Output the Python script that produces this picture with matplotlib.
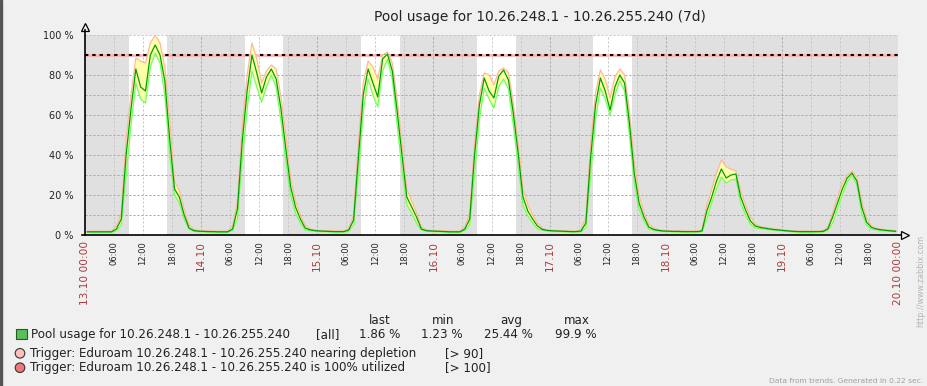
import numpy as np
import matplotlib.pyplot as plt
from matplotlib.patches import Rectangle, Ellipse

W, H = 927, 386

title = "Pool usage for 10.26.248.1 - 10.26.255.240 (7d)"
item_name = "Pool usage for 10.26.248.1 - 10.26.255.240"
days = ["13.10", "14.10", "15.10", "16.10", "17.10", "18.10", "19.10", "20.10"]
work_days = [0, 1, 2, 3, 4]      # Mon..Fri -> white band
work_hours = (9, 17)
trigger_level = 90

# hourly trend values, one row per day (00..23)
avg_vals = [
    1.6, 1.6, 1.6, 1.6, 1.6, 1.6, 3.0, 8.0, 40, 63, 83, 74, 72, 90, 95, 90, 77, 48, 23, 19, 10, 3.5, 2.2, 1.9,
    1.8, 1.7, 1.7, 1.6, 1.6, 1.6, 3.0, 13, 47, 72, 90, 81, 71, 79, 83, 78, 63, 43, 24, 14, 8.0, 3.5, 2.6, 2.2,
    2.0, 1.9, 1.8, 1.7, 1.7, 1.7, 2.5, 7.5, 39, 70, 83, 76, 69, 88, 90.5, 82, 62, 40, 19, 14, 9.0, 3.0, 2.2, 2.0,
    1.9, 1.8, 1.7, 1.6, 1.6, 1.6, 3.0, 8.0, 40, 65, 78.5, 72, 68.5, 79.5, 82.5, 77.5, 61, 41, 19, 12, 8.0, 4.5, 2.8, 2.3,
    2.1, 2.0, 1.9, 1.8, 1.7, 1.7, 2.0, 6.0, 39, 65, 78.5, 72, 62.5, 74, 80, 76, 56, 31, 16, 9.0, 4.0, 2.8, 2.3, 2.0,
    1.9, 1.8, 1.8, 1.7, 1.7, 1.7, 1.7, 2.0, 12, 19, 27, 33, 28.5, 30, 30.5, 19, 12.5, 7.0, 4.5, 3.8, 3.4, 3.0, 2.7, 2.5,
    2.2, 2.0, 1.8, 1.7, 1.7, 1.7, 1.7, 1.7, 1.8, 3.0, 9.0, 16, 23, 28.5, 31, 27, 14, 6.5, 3.8, 3.0, 2.6, 2.3, 2.1, 1.86,
]
min_vals = [
    1.3, 1.3, 1.3, 1.3, 1.3, 1.3, 2.0, 5.0, 30, 55, 76, 68, 66, 84, 91, 86, 70, 40, 20, 16, 8.0, 3.0, 1.9, 1.6,
    1.5, 1.4, 1.4, 1.3, 1.3, 1.3, 2.2, 8.0, 38, 63, 82, 74, 66.5, 74, 80, 74, 57, 37, 20, 11, 6.0, 2.5, 2.2, 1.9,
    1.7, 1.6, 1.5, 1.4, 1.4, 1.4, 1.8, 5.0, 30, 62, 78, 70, 64, 82, 88, 78, 55, 33, 15, 11, 6.0, 2.5, 1.9, 1.7,
    1.6, 1.5, 1.4, 1.3, 1.3, 1.3, 2.2, 5.0, 30, 58, 73.5, 68, 63.5, 74, 78, 73, 55, 35, 15, 9.5, 6.0, 3.0, 2.4, 2.0,
    1.8, 1.7, 1.6, 1.5, 1.4, 1.4, 1.5, 3.5, 30, 58, 73.5, 68, 60, 70, 77, 72, 50, 26, 13, 7.0, 3.0, 2.3, 2.0, 1.7,
    1.6, 1.5, 1.5, 1.4, 1.4, 1.4, 1.4, 1.5, 8.0, 16, 23, 29, 26, 27.5, 28, 16, 10, 5.5, 3.5, 3.3, 3.0, 2.6, 2.3, 2.2,
    1.9, 1.7, 1.5, 1.4, 1.3, 1.23, 1.3, 1.4, 1.5, 2.2, 6.0, 13, 20, 26.5, 30, 25, 11, 5.0, 3.0, 2.6, 2.2, 2.0, 1.8, 1.6,
]
max_vals = [
    1.9, 1.9, 1.9, 1.9, 1.9, 1.9, 4.5, 11, 48, 70, 88.5, 87, 86, 96, 99.9, 96, 84, 58, 27, 22, 13, 5.0, 2.8, 2.3,
    2.1, 2.0, 2.0, 1.9, 1.9, 1.9, 4.5, 17, 55, 80, 96, 88, 76, 82, 85, 83, 69, 50, 28, 17, 10, 5.0, 3.0, 2.5,
    2.3, 2.2, 2.1, 2.0, 2.0, 2.0, 3.5, 10, 47, 76, 87, 84, 78, 90, 91.5, 86, 68, 46, 23, 17, 11, 4.0, 2.6, 2.3,
    2.2, 2.1, 2.0, 1.9, 1.9, 1.9, 4.0, 11, 46, 70, 81, 80, 75, 82, 83.5, 81, 66, 46, 23, 15, 10, 6.0, 3.3, 2.6,
    2.4, 2.3, 2.2, 2.1, 2.0, 2.0, 2.6, 9.0, 46, 71, 82.5, 78, 68.5, 79, 83, 80, 62, 37, 20, 11, 5.5, 3.5, 2.7, 2.3,
    2.2, 2.1, 2.1, 2.0, 2.0, 2.0, 2.0, 2.5, 15, 23, 31, 37.5, 34, 33, 32, 22, 15, 9.0, 5.5, 4.3, 3.8, 3.4, 3.0, 2.8,
    2.5, 2.3, 2.1, 2.0, 2.0, 2.0, 2.0, 2.0, 2.1, 4.0, 11, 19, 26, 30, 32, 29, 17, 8.5, 4.5, 3.4, 3.0, 2.6, 2.4, 2.2,
]
stat_names = ["last", "min", "avg", "max"]
stat_values = ["1.86 %", "1.23 %", "25.44 %", "99.9 %"]
triggers = [("Trigger: Eduroam 10.26.248.1 - 10.26.255.240 nearing depletion", "[> 90]", "#FFBFBF"),
            ("Trigger: Eduroam 10.26.248.1 - 10.26.255.240 is 100% utilized", "[> 100]", "#F07878")]

BG = "#F0F0F0"
plt.rcParams['font.family'] = 'DejaVu Sans'


def fx(x):
    return x / W


def fy(y):
    return 1 - y / H


fig = plt.figure(figsize=(W / 100, H / 100), dpi=100, facecolor=BG)
fig.patches.append(Rectangle((0, 0), fx(2), 1, transform=fig.transFigure,
                             color="#555555", zorder=0))

ax = fig.add_axes([fx(85), fy(235), fx(813), 200 / H])
ax.set_facecolor("#E0E0E0")
ax.set_xlim(0, 168)
ax.set_ylim(0, 100)

for d in work_days:
    ax.axvspan(d * 24 + work_hours[0], d * 24 + work_hours[1], color="white", lw=0, zorder=0)

# grid
for v in range(10, 100, 10):
    ax.axhline(v, color="#A4A4A4", lw=0.72, ls=(0, (2, 2)), zorder=1)
ax.axhline(100, color="#C4C4C4", lw=0.72, ls=(0, (2, 2)), zorder=1)
for h in range(6, 169, 6):
    c = "#A4A4A4" if h % 24 == 0 else "#C4C4C4"
    ax.axvline(h, color=c, lw=0.72, ls=(0, (2, 2)), zorder=1)

# trigger line
ax.axhline(trigger_level, color="#FFB4B4", lw=2.0, zorder=2)
ax.axhline(trigger_level, color="black", lw=1.5, ls=(0, (1.6, 1.9)), zorder=3)

x = np.arange(len(avg_vals)) + 0.5
ax.fill_between(x, min_vals, max_vals, color="#FFFFA8", lw=0, zorder=4)
ax.plot(x, max_vals, color="#FFB8A0", lw=0.9, zorder=5)
ax.plot(x, min_vals, color="#70FF60", lw=0.9, zorder=5)
ax.plot(x, avg_vals, color="#00A000", lw=0.9, zorder=6)

for s in ax.spines.values():
    s.set_visible(False)
ax.plot([0, 0], [0, 102.5], color="black", lw=1.2, clip_on=False, zorder=7)
ax.plot([-0.6, 168.6], [0, 0], color="black", lw=1.2, clip_on=False, zorder=7)
ax.plot([0], [103.8], marker="^", ms=6, mfc=BG, mec="black", mew=0.9, clip_on=False)
ax.plot([169.4], [0], marker=">", ms=6, mfc=BG, mec="black", mew=0.9, clip_on=False)

# ticks
ax.set_yticks(range(0, 101, 20))
ax.set_yticklabels([f"{v} %" for v in range(0, 101, 20)])
ax.tick_params(axis="y", length=0, pad=8.4, labelsize=7, labelcolor="#222222")

xt = list(range(0, 169, 6))
labels = []
for h in xt:
    if h % 24 == 0:
        lab = days[h // 24]
        if h in (0, 168):
            lab += " 00:00"
    else:
        lab = f"{h % 24:02d}:00"
    labels.append(lab)
ax.set_xticks(xt)
ax.set_xticklabels(labels, rotation=90, va="top", ha="center")
ax.tick_params(axis="x", length=0, pad=4.5)
for h, t in zip(xt, ax.get_xticklabels()):
    if h % 24 == 0:
        t.set_color("#A83C3C")
        t.set_fontsize(7.6)
    else:
        t.set_color("#222222")
        t.set_fontsize(6.0)

# title
fig.text(fx(540), fy(17), title, ha="center", va="center", fontsize=9.9, color="#222222")

# legend
hdr_x = [380, 443, 511, 577]
val_right = [400, 463, 533, 597]
for name, xx in zip(stat_names, hdr_x):
    fig.text(fx(xx), fy(320.5), name, ha="center", va="center", fontsize=8.6, color="#222222")
fig.patches.append(Rectangle((fx(16), fy(339)), fx(11), 10 / H, transform=fig.transFigure,
                             facecolor="#5CBF5C", edgecolor="#1E5E1E", lw=0.8))
fig.text(fx(31), fy(334.3), item_name, ha="left", va="center", fontsize=8.6, color="#222222")
fig.text(fx(316), fy(334.3), "[all]", ha="left", va="center", fontsize=8.6, color="#222222")
for val, xr in zip(stat_values, val_right):
    fig.text(fx(xr), fy(334.3), val, ha="right", va="center", fontsize=8.6, color="#222222")

for i, (txt, cond, col) in enumerate(triggers):
    yy = 353.3 + i * 14.4
    fig.patches.append(Ellipse((fx(20), fy(yy)), 9.6 / W, 9.6 / H, transform=fig.transFigure,
                               facecolor=col, edgecolor="#333333", lw=0.8))
    fig.text(fx(30), fy(yy), txt, ha="left", va="center", fontsize=8.6, color="#222222")
    fig.text(fx(445), fy(yy), cond, ha="left", va="center", fontsize=8.6, color="#222222")

fig.text(fx(923), fy(381), "Data from trends. Generated in 0.22 sec.", ha="right", va="center",
         fontsize=5.4, color="#A0A0A0")
fig.text(fx(921), fy(235), "http://www.zabbix.com", ha="center", va="top", rotation=90,
         fontsize=5.8, color="#B4B4B4")

fig.savefig("out.png", dpi=100, facecolor=BG)
